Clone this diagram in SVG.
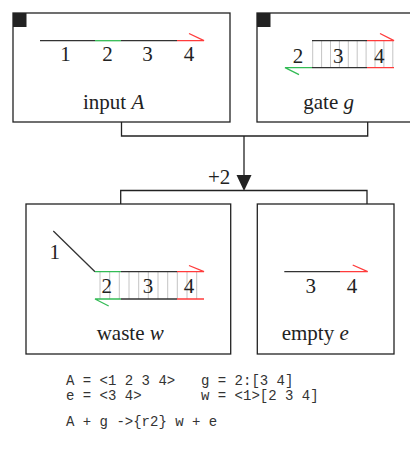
<svg xmlns="http://www.w3.org/2000/svg" width="410" height="453" viewBox="0 0 410 453">
<style>
.box{fill:#fff;stroke:#222;stroke-width:1.3}
.tab{fill:#222}
.st{fill:none;stroke:#333;stroke-width:1.3}
.g{fill:none;stroke:#33bb55;stroke-width:1.3}
.r{fill:none;stroke:#ff3b3b;stroke-width:1.3}
.v{stroke:#c4c4c4;stroke-width:1}
.lbl{font-family:"Liberation Serif","Times New Roman",serif;font-size:21px;fill:#222}
.dg{font-family:"Liberation Serif","Times New Roman",serif;font-size:21px;fill:#222;text-anchor:middle}
.code{font-family:"Liberation Mono","Courier New",monospace;font-size:14px;fill:#333;white-space:pre}
.c{fill:none;stroke:#222;stroke-width:1.3}
</style>
<rect width="410" height="453" fill="#fff"/>
<g id="connectors">
<path class="c" d="M121.5 122V136H367.7V122"/>
<path class="c" d="M244 136V176"/>
<polygon points="236.5,175 251.5,175 244,191" fill="#222"/>
<path class="c" d="M120.7 204V190.5H367V204"/>
<text class="lbl" x="208" y="183.5">+2</text>
</g>
<g id="input">
<rect class="box" x="13" y="13" width="217" height="109"/>
<rect class="tab" x="13" y="13" width="13.5" height="14"/>
<path class="st" d="M40 40.7H95M121 40.7H177"/>
<path class="g" d="M95 40.7H121"/>
<path class="r" d="M177 40.7H204L189 33.5"/>
<text class="dg" x="65.5" y="61">1</text>
<text class="dg" x="107.5" y="61">2</text>
<text class="dg" x="147.5" y="61">3</text>
<text class="dg" x="189" y="61">4</text>
<text class="lbl" x="83" y="109">input <tspan font-style="italic">A</tspan></text>
</g>
<g id="gate">
<rect class="box" x="257" y="13" width="220" height="109"/>
<rect class="tab" x="257" y="13" width="13.5" height="14"/>
<g class="v">
<path d="M312.7 40.7V67.7M321.6 40.7V67.7M330.5 40.7V67.7M339.4 40.7V67.7M348.3 40.7V67.7M357.2 40.7V67.7M366.1 40.7V67.7M375 40.7V67.7M383.9 40.7V67.7M392.8 40.7V67.7"/>
</g>
<path class="st" d="M312 40.7H367M312 67.7H367"/>
<path class="r" d="M367 40.7H394L380 33.5M367 67.7H394"/>
<path class="g" d="M312 67.7H285L299 74.7"/>
<text class="dg" x="298" y="62.7">2</text>
<text class="dg" x="338.3" y="62.7">3</text>
<text class="dg" x="379.2" y="62.7">4</text>
<text class="lbl" x="303.3" y="109">gate <tspan font-style="italic">g</tspan></text>
</g>
<g id="waste">
<rect class="box" x="26" y="204" width="204.7" height="150"/>
<g class="v">
<path d="M100 271.7V299M109.7 271.7V299M119.3 271.7V299M129 271.7V299M138.7 271.7V299M148.3 271.7V299M158 271.7V299M167.7 271.7V299M177.3 271.7V299M187 271.7V299M196.7 271.7V299"/>
</g>
<path class="st" d="M53.3 231L95 271.7M121 271.7H177M121 299H177"/>
<path class="g" d="M95 271.7H121M121 299H95L108.7 306"/>
<path class="r" d="M177 271.7H204L189 265.5M177 299H204"/>
<text class="dg" x="54.7" y="259">1</text>
<text class="dg" x="106.7" y="292.7">2</text>
<text class="dg" x="148" y="292.7">3</text>
<text class="dg" x="189" y="292.7">4</text>
<text class="lbl" x="96.7" y="340">waste <tspan font-style="italic">w</tspan></text>
</g>
<g id="empty">
<rect class="box" x="257.3" y="204" width="136.7" height="150"/>
<path class="st" d="M284.3 271.7H340"/>
<path class="r" d="M340 271.7H367.7L352.7 265"/>
<text class="dg" x="310.8" y="292.7">3</text>
<text class="dg" x="352" y="292.7">4</text>
<text class="lbl" x="281.7" y="340">empty <tspan font-style="italic">e</tspan></text>
</g>
<g id="code">
<text class="code" x="66" y="385">A = &lt;1 2 3 4&gt;</text>
<text class="code" x="201" y="385">g = 2:[3 4]</text>
<text class="code" x="66" y="400">e = &lt;3 4&gt;</text>
<text class="code" x="201" y="400">w = &lt;1&gt;[2 3 4]</text>
<text class="code" x="66" y="426">A + g -&gt;{r2} w + e</text>
</g>
</svg>
